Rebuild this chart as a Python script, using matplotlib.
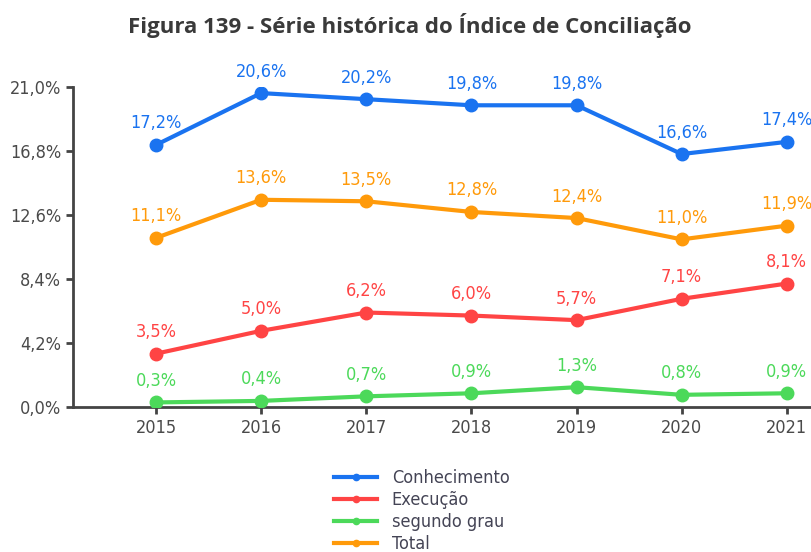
import matplotlib
matplotlib.use("Agg")
import matplotlib.pyplot as plt

years = ["2015", "2016", "2017", "2018", "2019", "2020", "2021"]
conhecimento = [17.2, 20.6, 20.2, 19.8, 19.8, 16.6, 17.4]
execucao = [3.5, 5.0, 6.2, 6.0, 5.7, 7.1, 8.1]
segundo_grau = [0.3, 0.4, 0.7, 0.9, 1.3, 0.8, 0.9]
total = [11.1, 13.6, 13.5, 12.8, 12.4, 11.0, 11.9]
yticks = [0.0, 4.2, 8.4, 12.6, 16.8, 21.0]

plot_points = {
    "Conhecimento": (conhecimento, "#1a73f0"),
    "Execução": (execucao, "#ff4444"),
    "segundo grau": (segundo_grau, "#4cd95a"),
    "Total": (total, "#ff9a0a"),
}

plt.rcParams['font.family'] = ['DejaVu Sans']
plt.rcParams['font.stretch'] = 'condensed'

fig = plt.figure(figsize=(8.12, 5.52), dpi=100)
ax = fig.add_axes([73/812, 1-407/552, 1-73/812, (407-87)/552])

x = list(range(len(years)))
handles = []
for name, (vals, col) in plot_points.items():
    h, = ax.plot(x, vals, color=col, lw=3, marker='o', ms=9, label=name, zorder=3)
    handles.append(h)
    for xi, v in zip(x, vals):
        ax.annotate(f"{v:.1f}%".replace('.', ','), (xi, v), xytext=(0, 9),
                    textcoords='offset points', ha='center', va='bottom',
                    color=col, fontsize=13, fontstretch='condensed')

ax.set_xlim(-0.79, 6.24)
ax.set_ylim(0, 21)
ax.set_yticks(yticks)
ax.set_yticklabels([f"{t:.1f}%".replace('.', ',') for t in yticks])
ax.set_xticks(x)
ax.set_xticklabels(years)
for s in ['top', 'right']:
    ax.spines[s].set_visible(False)
for s in ['left', 'bottom']:
    ax.spines[s].set_color('#444444')
    ax.spines[s].set_linewidth(2)
ax.tick_params(axis='both', colors='#444444', labelcolor='#4a4a4a', labelsize=13,
               width=2, length=5)
for lab in ax.get_xticklabels() + ax.get_yticklabels():
    lab.set_fontstretch('condensed')
ax.set_facecolor('none')

fig.text(0.505, 0.953, "Figura 139 - Série histórica do Índice de Conciliação",
         ha='center', va='center', fontsize=16, fontweight='bold', color='#3a3a3a',
         family=['Open Sans', 'DejaVu Sans'])

leg = fig.legend(handles=handles, loc='upper left', bbox_to_anchor=(325/812, 1-460/552),
                 frameon=False, handlelength=2.4, labelspacing=0.22,
                 markerscale=0.5, handletextpad=0.8, borderpad=0,
                 prop={'size': 13, 'stretch': 'condensed'})
for t in leg.get_texts():
    t.set_color('#444455')

fig.savefig("out.png", dpi=100)
